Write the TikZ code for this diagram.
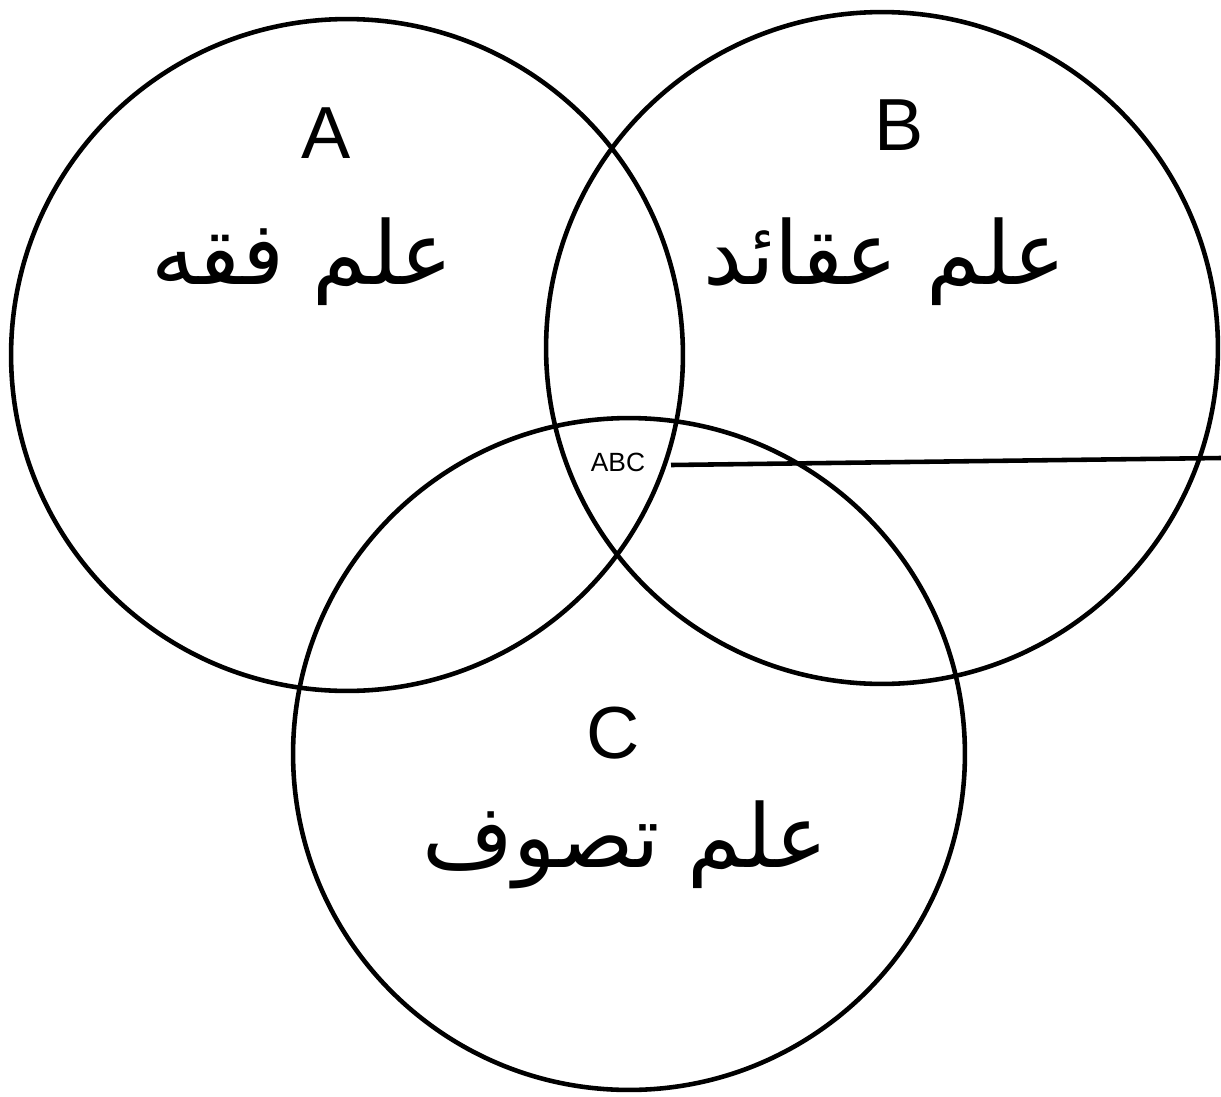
\documentclass[tikz,border=0pt]{standalone}
\usepackage{fontspec}
\setmainfont{Liberation Sans}
\newfontfamily\arabicfont[Script=Arabic]{DejaVu Sans}
\TeXXeTstate=1
\begin{document}
\begin{tikzpicture}[x=0.02cm,y=-0.02cm,
  venn/.style={draw=black,line width=2.6pt,circle,minimum size=13.44cm,inner sep=0pt},
  letter/.style={font=\fontsize{42}{50}\selectfont,inner sep=0pt},
  urdu/.style={font=\arabicfont\fontsize{50}{60}\selectfont,inner sep=0pt},
  pointer/.style={draw=black,line width=2.6pt}]
\useasboundingbox (0,0) rectangle (1221,1096);
\node[venn] (cA) at (347,355) {};
\node[venn] (cB) at (882,348) {};
\node[venn] (cC) at (629,754) {};
\node[letter] (la) at (326,133) {A};
\node[letter] (lb) at (899,125) {B};
\node[letter] (lc) at (613,733) {C};
\node[font=\fontsize{15}{18}\selectfont,inner sep=0pt] (abc) at (618,462) {ABC};
\node[urdu] (ta) at (302,262) {\beginR علم فقه\endR};
\node[urdu] (tb) at (885,262) {\beginR علم عقائد\endR};
\node[urdu] (tc) at (625,845) {\beginR علم تصوف\endR};
\coordinate (lstart) at (671,465);
\coordinate (lend) at (1221,458);
\draw[pointer] (lstart) -- (lend);
\end{tikzpicture}
\end{document}
